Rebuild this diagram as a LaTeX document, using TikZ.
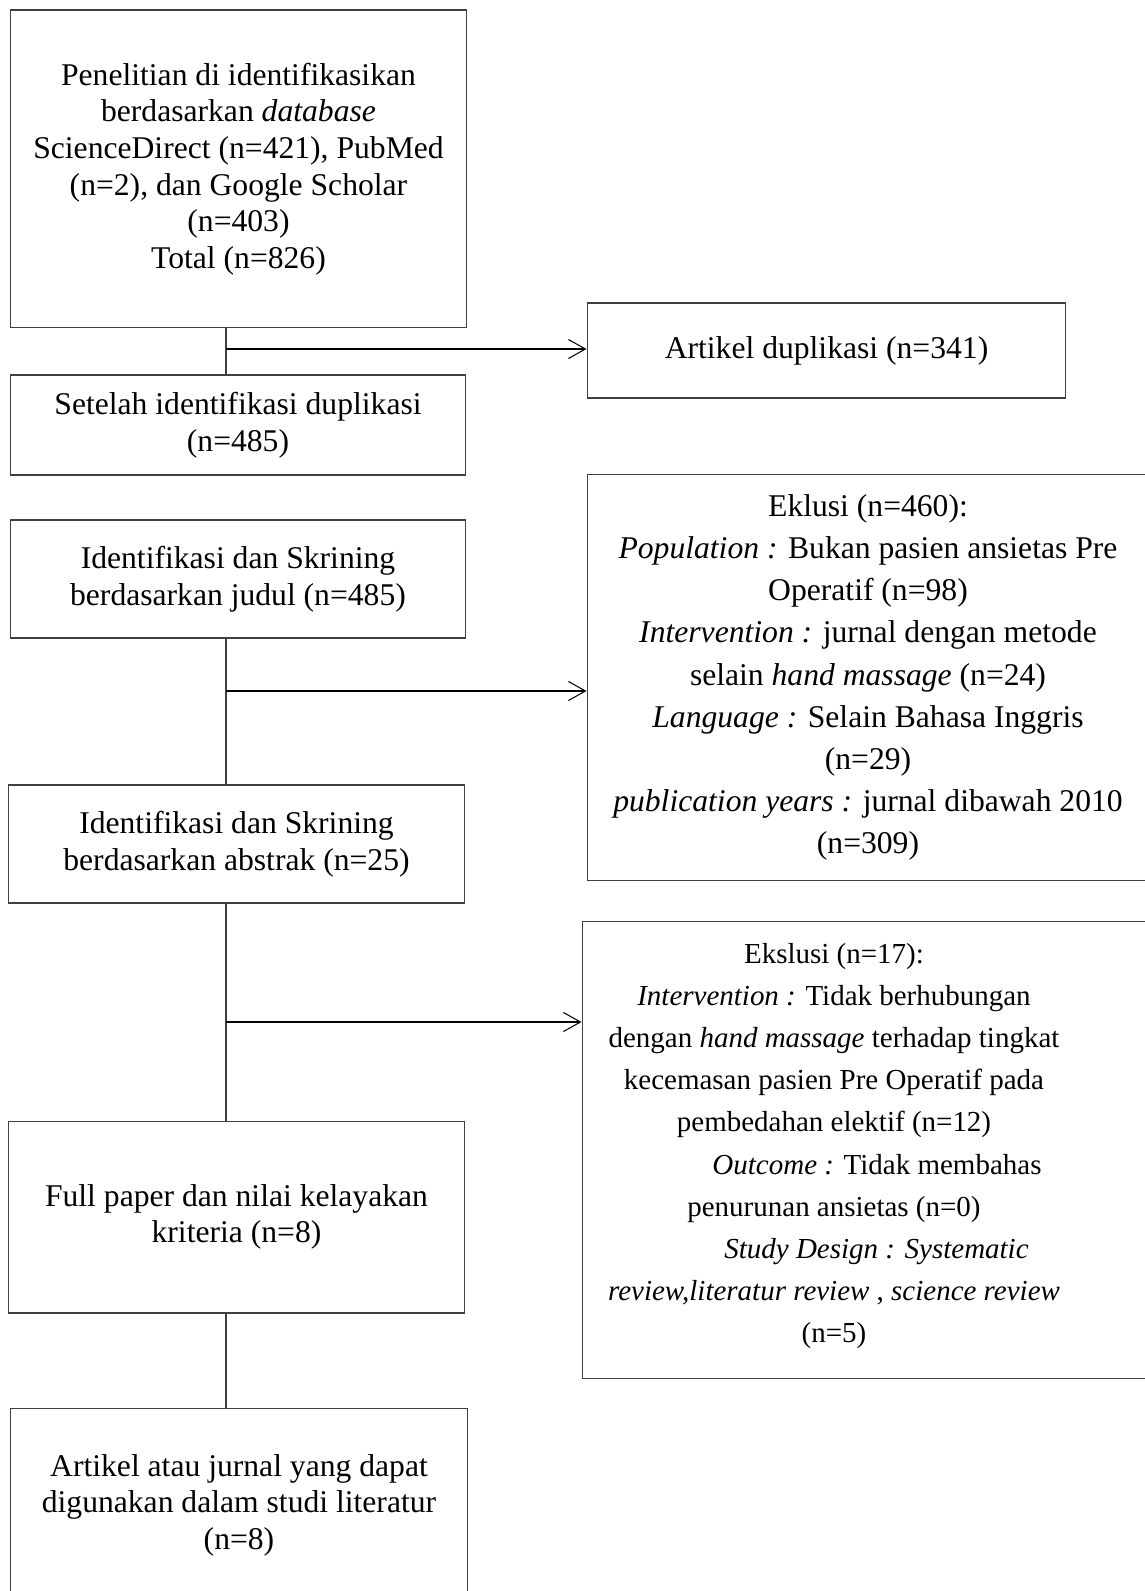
\documentclass[tikz,border=0pt]{standalone}
\usepackage{fontspec}
\setmainfont{Liberation Serif}
\usetikzlibrary{arrows.meta}

\begin{document}
\begin{tikzpicture}[x=0.02cm, y=-0.02cm,
	box/.style = {draw=black!75, line width=0.6pt, inner sep=0pt, align=center,
		font=\fontsize{18}{20.8}\selectfont},
	exbox/.style = {box, font=\fontsize{18}{24}\selectfont},
	line/.style = {draw=black!75, line width=0.6pt},
	arr/.style = {draw=black, line width=0.6pt, -{Straight Barb[length=3.4mm, width=3.8mm]}}]
	\clip (0,0) rectangle (1145,1591);

	\coordinate (spine) at (226,0);

	\node[box, minimum width=9.14cm, minimum height=6.36cm] (src) at (238.5,169)
		{Penelitian di identifikasikan\\ berdasarkan \textit{database}\\ ScienceDirect (n=421), PubMed\\ (n=2), dan Google Scholar\\ (n=403)\\ Total (n=826)};
	\node[box, minimum width=9.58cm, minimum height=1.9cm] (dup) at (826.5,350.5)
		{Artikel duplikasi (n=341)};
	\node[box, minimum width=9.12cm, minimum height=2.0cm] (after) at (238,425)
		{Setelah identifikasi duplikasi\\ (n=485)};
	\node[box, minimum width=9.12cm, minimum height=2.36cm] (judul) at (238,579)
		{Identifikasi dan Skrining\\ berdasarkan judul (n=485)};
	\node[exbox, minimum width=11.24cm, minimum height=8.14cm] (exc1) at (868,677.5)
		{Eklusi (n=460):\\ \textit{Population :} Bukan pasien ansietas Pre\\ Operatif (n=98)\\ \textit{Intervention :} jurnal dengan metode\\ selain \textit{hand massage} (n=24)\\ \textit{Language :} Selain Bahasa Inggris\\ (n=29)\\ \textit{publication years :} jurnal dibawah 2010\\ (n=309)};
	\node[box, minimum width=9.14cm, minimum height=2.36cm] (abstrak) at (236.5,844)
		{Identifikasi dan Skrining\\ berdasarkan abstrak (n=25)};
	\node[box, minimum width=12.36cm, minimum height=9.16cm] (exc2) at (891,1150) {};
	\node[exbox, draw=none, font=\fontsize{16.5}{24}\selectfont] (exc2text) at (834,1146)
		{Ekslusi (n=17):\\ \textit{Intervention :} Tidak berhubungan\\ dengan \textit{hand massage} terhadap tingkat\\ kecemasan pasien Pre Operatif pada\\ pembedahan elektif (n=12)\hspace*{0.66cm}\\ \hspace*{1.72cm}\textit{Outcome :} Tidak membahas\\ penurunan ansietas (n=0)\hspace*{1.1cm}\\ \hspace*{1.7cm}\textit{Study Design : Systematic}\\ \textit{review,literatur review} , \textit{science review}\\ (n=5)};
	\node[box, minimum width=9.14cm, minimum height=3.84cm] (full) at (236.5,1217)
		{Full paper dan nilai kelayakan\\ kriteria (n=8)};
	\node[box, minimum width=9.16cm, minimum height=3.88cm] (final) at (239,1505)
		{Artikel atau jurnal yang dapat\\ digunakan dalam studi literatur\\ (n=8)};

	\coordinate (j1) at (226,349);
	\coordinate (j2) at (226,691);
	\coordinate (j3) at (226,1022);

	\path[line] (src.south -| spine) edge (after.north -| spine)
		(judul.south -| spine) edge (abstrak.north -| spine)
		(abstrak.south -| spine) edge (full.north -| spine)
		(full.south -| spine) edge (final.north -| spine);

	\draw[arr] (j1) -- (j1 -| dup.west);
	\draw[arr] (j2) -- (j2 -| exc1.west);
	\draw[arr] (j3) -- (j3 -| exc2.west);
\end{tikzpicture}
\end{document}
